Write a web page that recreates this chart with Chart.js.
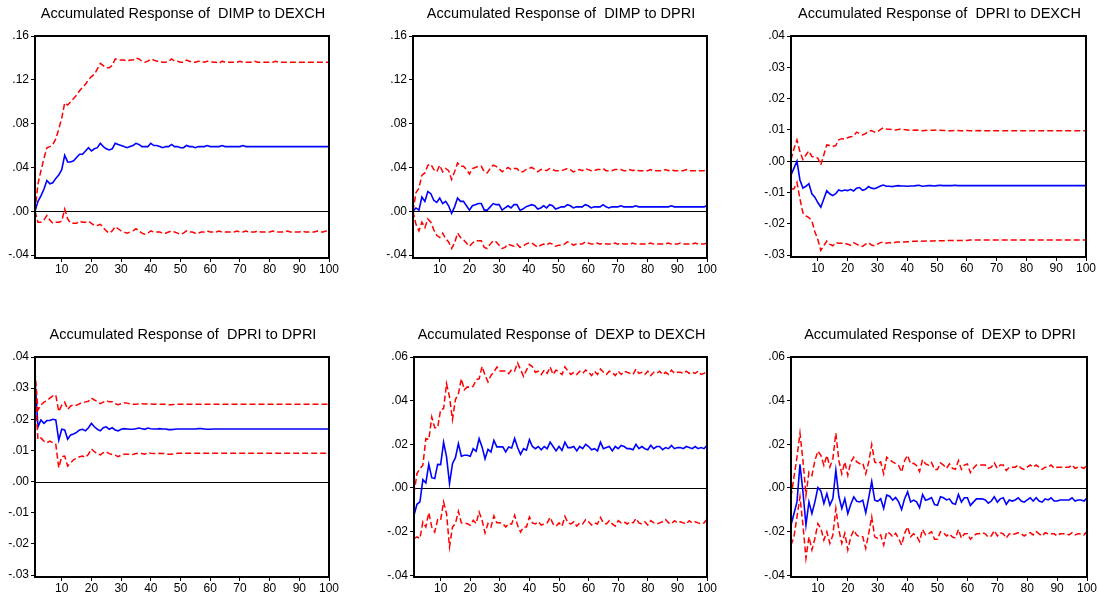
<!DOCTYPE html>
<html>
<head>
<meta charset="utf-8">
<script src="https://cdn.jsdelivr.net/npm/chart.js@4.4.0/dist/chart.umd.min.js"></script>
<style>
html,body{margin:0;padding:0;background:#fff;}
body{width:1099px;height:600px;position:relative;overflow:hidden;}
canvas{position:absolute;}
</style>
</head>
<body>
<script>
// ---------- DATA ----------
const periods = Array.from({length:100},(_,i)=>i+1);
const xTicks = [10,20,30,40,50,60,70,80,90,100];
const yTicksDimp = [-0.04,0,0.04,0.08,0.12,0.16];
const yTicksDpri = [-0.03,-0.02,-0.01,0,0.01,0.02,0.03,0.04];
const yTicksDexp = [-0.04,-0.02,0,0.02,0.04,0.06];
const titles = [
  "Accumulated Response of  DIMP to DEXCH",
  "Accumulated Response of  DIMP to DPRI",
  "Accumulated Response of  DPRI to DEXCH",
  "Accumulated Response of  DPRI to DPRI",
  "Accumulated Response of  DEXP to DEXCH",
  "Accumulated Response of  DEXP to DPRI"
];

const dimpDexchResp = [
0.000,0.009,0.014,0.020,0.028,0.025,0.026,0.030,0.033,0.038,
0.051,0.045,0.045,0.046,0.049,0.052,0.052,0.055,0.058,0.055,
0.057,0.058,0.062,0.059,0.057,0.056,0.057,0.062,0.061,0.060,
0.059,0.058,0.059,0.060,0.062,0.061,0.059,0.059,0.059,0.062,
0.060,0.060,0.059,0.058,0.059,0.059,0.061,0.059,0.059,0.058,
0.058,0.060,0.059,0.059,0.058,0.059,0.059,0.059,0.060,0.059,
0.059,0.059,0.059,0.060,0.059,0.059,0.059,0.059,0.059,0.059,
0.060,0.059,0.059,0.059,0.059,0.059,0.059,0.059,0.059,0.059,
0.059,0.059,0.059,0.059,0.059,0.059,0.059,0.059,0.059,0.059,
0.059,0.059,0.059,0.059,0.059,0.059,0.059,0.059,0.059,0.059];
const dimpDexchUp = [
0.000,0.025,0.037,0.048,0.058,0.059,0.061,0.066,0.075,0.085,
0.099,0.097,0.100,0.103,0.106,0.110,0.113,0.116,0.120,0.123,
0.125,0.130,0.135,0.133,0.131,0.131,0.133,0.139,0.138,0.138,
0.138,0.137,0.138,0.138,0.140,0.139,0.137,0.136,0.137,0.139,
0.138,0.137,0.137,0.136,0.136,0.137,0.139,0.137,0.137,0.136,
0.136,0.138,0.137,0.136,0.136,0.137,0.137,0.136,0.137,0.137,
0.136,0.136,0.135,0.137,0.136,0.136,0.136,0.136,0.136,0.137,
0.136,0.136,0.136,0.136,0.137,0.136,0.136,0.136,0.136,0.136,
0.136,0.137,0.136,0.136,0.136,0.136,0.136,0.136,0.136,0.136,
0.136,0.136,0.136,0.136,0.136,0.136,0.136,0.136,0.136,0.136];
const dimpDexchLo = [
0.000,-0.010,-0.010,-0.008,-0.004,-0.008,-0.011,-0.010,-0.010,-0.009,
0.002,-0.007,-0.011,-0.011,-0.011,-0.009,-0.010,-0.010,-0.009,-0.011,
-0.013,-0.013,-0.012,-0.015,-0.018,-0.020,-0.018,-0.014,-0.016,-0.018,
-0.019,-0.020,-0.019,-0.018,-0.016,-0.018,-0.020,-0.021,-0.020,-0.018,
-0.019,-0.019,-0.019,-0.020,-0.020,-0.019,-0.018,-0.019,-0.020,-0.021,
-0.020,-0.018,-0.019,-0.019,-0.020,-0.020,-0.019,-0.019,-0.018,-0.019,
-0.019,-0.019,-0.018,-0.019,-0.019,-0.019,-0.019,-0.019,-0.018,-0.019,
-0.019,-0.018,-0.019,-0.019,-0.019,-0.018,-0.019,-0.019,-0.019,-0.019,
-0.018,-0.019,-0.019,-0.019,-0.019,-0.018,-0.019,-0.019,-0.019,-0.019,
-0.018,-0.019,-0.019,-0.019,-0.019,-0.018,-0.019,-0.019,-0.018,-0.018];

const dimpDpriResp = [
0.000,0.003,0.001,0.013,0.009,0.018,0.016,0.010,0.008,0.012,
0.007,0.009,0.005,-0.002,0.004,0.012,0.009,0.009,0.005,0.001,
0.005,0.006,0.007,0.007,0.001,0.001,0.004,0.007,0.006,0.006,
0.001,0.003,0.005,0.003,0.006,0.006,0.001,0.002,0.004,0.005,
0.006,0.005,0.002,0.003,0.005,0.003,0.006,0.005,0.002,0.003,
0.004,0.004,0.006,0.005,0.003,0.004,0.004,0.004,0.006,0.005,
0.003,0.004,0.004,0.004,0.006,0.004,0.003,0.004,0.004,0.004,
0.005,0.004,0.004,0.004,0.004,0.005,0.004,0.004,0.004,0.004,
0.004,0.004,0.004,0.004,0.004,0.004,0.004,0.005,0.004,0.004,
0.004,0.004,0.004,0.004,0.004,0.004,0.004,0.004,0.004,0.005];
const dimpDpriUp = [
0.000,0.017,0.021,0.033,0.035,0.042,0.043,0.038,0.036,0.042,
0.036,0.039,0.037,0.029,0.036,0.044,0.041,0.041,0.038,0.034,
0.039,0.040,0.041,0.041,0.036,0.035,0.039,0.042,0.041,0.039,
0.036,0.038,0.040,0.038,0.039,0.039,0.036,0.036,0.038,0.039,
0.040,0.038,0.036,0.038,0.038,0.037,0.039,0.038,0.037,0.037,
0.037,0.038,0.039,0.038,0.036,0.037,0.038,0.037,0.039,0.038,
0.037,0.037,0.038,0.038,0.039,0.037,0.037,0.037,0.038,0.038,
0.038,0.037,0.037,0.038,0.037,0.038,0.037,0.037,0.037,0.037,
0.038,0.037,0.037,0.037,0.037,0.038,0.037,0.038,0.037,0.037,
0.037,0.037,0.038,0.037,0.037,0.037,0.037,0.037,0.037,0.038];
const dimpDpriLo = [
0.000,-0.012,-0.018,-0.010,-0.015,-0.007,-0.010,-0.017,-0.022,-0.024,
-0.020,-0.025,-0.028,-0.034,-0.029,-0.020,-0.024,-0.026,-0.029,-0.032,
-0.029,-0.027,-0.027,-0.027,-0.033,-0.034,-0.030,-0.027,-0.028,-0.031,
-0.034,-0.033,-0.030,-0.031,-0.032,-0.030,-0.033,-0.032,-0.030,-0.029,
-0.029,-0.031,-0.033,-0.031,-0.030,-0.031,-0.029,-0.030,-0.032,-0.031,
-0.031,-0.030,-0.028,-0.029,-0.031,-0.030,-0.030,-0.030,-0.028,-0.029,
-0.030,-0.030,-0.029,-0.030,-0.029,-0.030,-0.030,-0.030,-0.029,-0.030,
-0.029,-0.030,-0.030,-0.030,-0.029,-0.030,-0.030,-0.030,-0.030,-0.030,
-0.029,-0.030,-0.030,-0.030,-0.030,-0.030,-0.029,-0.030,-0.030,-0.030,
-0.029,-0.030,-0.030,-0.030,-0.030,-0.029,-0.030,-0.030,-0.030,-0.029];

const dpriDexchResp = [
-0.0044,-0.0022,0.0000,-0.0060,-0.0086,-0.0080,-0.0072,-0.0104,-0.0115,-0.0132,
-0.0147,-0.0121,-0.0094,-0.0104,-0.0110,-0.0104,-0.0092,-0.0095,-0.0092,-0.0094,
-0.0090,-0.0095,-0.0086,-0.0084,-0.0093,-0.0090,-0.0081,-0.0086,-0.0088,-0.0084,
-0.0079,-0.0076,-0.0080,-0.0080,-0.0081,-0.0079,-0.0078,-0.0079,-0.0079,-0.0080,
-0.0079,-0.0079,-0.0078,-0.0077,-0.0080,-0.0079,-0.0078,-0.0078,-0.0079,-0.0078,
-0.0077,-0.0078,-0.0078,-0.0078,-0.0078,-0.0077,-0.0078,-0.0078,-0.0078,-0.0078,
-0.0078,-0.0078,-0.0078,-0.0078,-0.0078,-0.0078,-0.0078,-0.0078,-0.0078,-0.0078,
-0.0078,-0.0078,-0.0078,-0.0078,-0.0078,-0.0078,-0.0078,-0.0078,-0.0078,-0.0078,
-0.0078,-0.0078,-0.0078,-0.0078,-0.0078,-0.0078,-0.0078,-0.0078,-0.0078,-0.0078,
-0.0078,-0.0078,-0.0078,-0.0078,-0.0078,-0.0078,-0.0078,-0.0078,-0.0078,-0.0078];
const dpriDexchUp = [
0.0005,0.0040,0.0068,0.0030,0.0005,0.0020,0.0033,0.0015,0.0012,0.0010,
-0.0012,0.0020,0.0052,0.0050,0.0047,0.0050,0.0068,0.0072,0.0071,0.0075,
0.0078,0.0080,0.0093,0.0088,0.0084,0.0088,0.0095,0.0098,0.0093,0.0094,
0.0101,0.0107,0.0103,0.0102,0.0101,0.0100,0.0101,0.0103,0.0101,0.0100,
0.0099,0.0099,0.0100,0.0099,0.0097,0.0098,0.0099,0.0099,0.0099,0.0100,
0.0099,0.0098,0.0098,0.0097,0.0097,0.0098,0.0098,0.0097,0.0097,0.0098,
0.0097,0.0097,0.0097,0.0098,0.0097,0.0097,0.0097,0.0097,0.0097,0.0097,
0.0097,0.0097,0.0097,0.0097,0.0097,0.0097,0.0097,0.0097,0.0097,0.0097,
0.0097,0.0097,0.0097,0.0097,0.0097,0.0097,0.0097,0.0097,0.0097,0.0097,
0.0097,0.0097,0.0097,0.0097,0.0097,0.0097,0.0097,0.0097,0.0097,0.0097];
const dpriDexchLo = [
-0.0090,-0.0088,-0.0068,-0.0120,-0.0165,-0.0175,-0.0180,-0.0190,-0.0225,-0.0250,
-0.0285,-0.0270,-0.0255,-0.0265,-0.0270,-0.0260,-0.0262,-0.0262,-0.0262,-0.0265,
-0.0268,-0.0260,-0.0265,-0.0270,-0.0272,-0.0265,-0.0260,-0.0268,-0.0270,-0.0265,
-0.0260,-0.0258,-0.0262,-0.0260,-0.0262,-0.0259,-0.0258,-0.0258,-0.0258,-0.0257,
-0.0257,-0.0256,-0.0256,-0.0254,-0.0256,-0.0255,-0.0255,-0.0255,-0.0255,-0.0254,
-0.0254,-0.0254,-0.0254,-0.0253,-0.0253,-0.0253,-0.0253,-0.0253,-0.0253,-0.0253,
-0.0252,-0.0252,-0.0252,-0.0252,-0.0252,-0.0252,-0.0252,-0.0252,-0.0252,-0.0252,
-0.0252,-0.0252,-0.0252,-0.0252,-0.0252,-0.0252,-0.0252,-0.0252,-0.0252,-0.0252,
-0.0252,-0.0252,-0.0252,-0.0252,-0.0252,-0.0252,-0.0252,-0.0252,-0.0252,-0.0252,
-0.0252,-0.0252,-0.0252,-0.0252,-0.0252,-0.0252,-0.0252,-0.0252,-0.0252,-0.0252];

const dpriDpriResp = [
0.0327,0.0176,0.0198,0.0187,0.0196,0.0196,0.0200,0.0198,0.0133,0.0168,
0.0166,0.0136,0.0150,0.0153,0.0158,0.0166,0.0168,0.0163,0.0173,0.0187,
0.0176,0.0168,0.0163,0.0173,0.0176,0.0168,0.0173,0.0166,0.0163,0.0168,
0.0170,0.0169,0.0168,0.0168,0.0170,0.0172,0.0170,0.0168,0.0172,0.0170,
0.0169,0.0169,0.0170,0.0169,0.0169,0.0167,0.0167,0.0168,0.0169,0.0169,
0.0169,0.0169,0.0169,0.0169,0.0169,0.0170,0.0170,0.0169,0.0168,0.0168,
0.0169,0.0169,0.0169,0.0169,0.0169,0.0169,0.0169,0.0169,0.0169,0.0169,
0.0169,0.0169,0.0169,0.0169,0.0169,0.0169,0.0169,0.0169,0.0169,0.0169,
0.0169,0.0169,0.0169,0.0169,0.0169,0.0169,0.0169,0.0169,0.0169,0.0169,
0.0169,0.0169,0.0169,0.0169,0.0169,0.0169,0.0169,0.0169,0.0169,0.0169];
const dpriDpriUp = [
0.0354,0.0230,0.0246,0.0255,0.0260,0.0268,0.0275,0.0278,0.0225,0.0245,
0.0255,0.0232,0.0243,0.0246,0.0245,0.0250,0.0253,0.0256,0.0258,0.0268,
0.0262,0.0257,0.0250,0.0255,0.0260,0.0256,0.0256,0.0250,0.0247,0.0250,
0.0253,0.0252,0.0250,0.0248,0.0248,0.0250,0.0250,0.0249,0.0250,0.0249,
0.0248,0.0248,0.0248,0.0248,0.0248,0.0247,0.0247,0.0248,0.0248,0.0248,
0.0248,0.0248,0.0248,0.0248,0.0248,0.0248,0.0248,0.0248,0.0248,0.0248,
0.0248,0.0248,0.0248,0.0248,0.0248,0.0248,0.0248,0.0248,0.0248,0.0248,
0.0248,0.0248,0.0248,0.0248,0.0248,0.0248,0.0248,0.0248,0.0248,0.0248,
0.0248,0.0248,0.0248,0.0248,0.0248,0.0248,0.0248,0.0248,0.0248,0.0248,
0.0248,0.0248,0.0248,0.0248,0.0248,0.0248,0.0248,0.0248,0.0248,0.0248];
const dpriDpriLo = [
0.0300,0.0135,0.0140,0.0130,0.0125,0.0130,0.0125,0.0120,0.0045,0.0080,
0.0082,0.0050,0.0060,0.0070,0.0075,0.0080,0.0082,0.0078,0.0088,0.0105,
0.0096,0.0090,0.0086,0.0093,0.0096,0.0090,0.0087,0.0085,0.0080,0.0085,
0.0088,0.0088,0.0088,0.0087,0.0090,0.0092,0.0090,0.0088,0.0093,0.0091,
0.0090,0.0090,0.0091,0.0090,0.0090,0.0088,0.0088,0.0090,0.0091,0.0091,
0.0091,0.0091,0.0091,0.0091,0.0091,0.0091,0.0091,0.0091,0.0091,0.0091,
0.0091,0.0091,0.0091,0.0091,0.0091,0.0091,0.0091,0.0091,0.0091,0.0091,
0.0091,0.0091,0.0091,0.0091,0.0091,0.0091,0.0091,0.0091,0.0091,0.0091,
0.0091,0.0091,0.0091,0.0091,0.0091,0.0091,0.0091,0.0091,0.0091,0.0091,
0.0091,0.0091,0.0091,0.0091,0.0091,0.0091,0.0091,0.0091,0.0091,0.0091];

const dexpDexchResp = [
-0.0125,-0.0075,-0.0064,0.0038,0.0023,0.0108,0.0047,0.0043,0.0108,0.0107,
0.0209,0.0142,0.0020,0.0111,0.0139,0.0203,0.0145,0.0150,0.0150,0.0145,
0.0180,0.0168,0.0226,0.0188,0.0134,0.0177,0.0165,0.0218,0.0188,0.0188,
0.0188,0.0165,0.0188,0.0183,0.0227,0.0185,0.0154,0.0180,0.0173,0.0221,
0.0190,0.0180,0.0190,0.0175,0.0190,0.0180,0.0210,0.0190,0.0170,0.0190,
0.0172,0.0210,0.0185,0.0185,0.0190,0.0170,0.0190,0.0180,0.0200,0.0190,
0.0175,0.0180,0.0170,0.0210,0.0180,0.0185,0.0190,0.0170,0.0190,0.0180,
0.0195,0.0190,0.0180,0.0180,0.0175,0.0200,0.0180,0.0190,0.0180,0.0175,
0.0195,0.0180,0.0190,0.0190,0.0175,0.0185,0.0180,0.0195,0.0180,0.0185,
0.0185,0.0180,0.0190,0.0185,0.0180,0.0190,0.0180,0.0185,0.0180,0.0195];
const dexpDexchUp = [
-0.0026,0.0066,0.0089,0.0104,0.0226,0.0221,0.0325,0.0276,0.0276,0.0359,
0.0363,0.0478,0.0417,0.0313,0.0405,0.0432,0.0500,0.0450,0.0463,0.0460,
0.0466,0.0496,0.0500,0.0557,0.0516,0.0486,0.0516,0.0531,0.0554,0.0536,
0.0536,0.0536,0.0524,0.0542,0.0536,0.0573,0.0542,0.0511,0.0540,0.0566,
0.0555,0.0530,0.0535,0.0520,0.0540,0.0525,0.0555,0.0520,0.0540,0.0530,
0.0520,0.0555,0.0535,0.0520,0.0530,0.0520,0.0535,0.0525,0.0540,0.0530,
0.0515,0.0535,0.0520,0.0545,0.0530,0.0520,0.0535,0.0530,0.0515,0.0535,
0.0520,0.0535,0.0530,0.0525,0.0520,0.0545,0.0525,0.0530,0.0520,0.0535,
0.0515,0.0530,0.0525,0.0535,0.0520,0.0530,0.0520,0.0540,0.0525,0.0530,
0.0530,0.0525,0.0535,0.0525,0.0530,0.0525,0.0535,0.0520,0.0525,0.0535];
const dexpDexchLo = [
-0.0232,-0.0224,-0.0232,-0.0156,-0.0179,-0.0113,-0.0179,-0.0202,-0.0145,-0.0148,
-0.0064,-0.0118,-0.0270,-0.0179,-0.0163,-0.0107,-0.0160,-0.0163,-0.0163,-0.0171,
-0.0148,-0.0163,-0.0110,-0.0148,-0.0206,-0.0163,-0.0179,-0.0128,-0.0160,-0.0160,
-0.0163,-0.0179,-0.0163,-0.0166,-0.0125,-0.0171,-0.0202,-0.0179,-0.0179,-0.0133,
-0.0160,-0.0165,-0.0155,-0.0170,-0.0165,-0.0160,-0.0135,-0.0165,-0.0175,-0.0160,
-0.0175,-0.0130,-0.0160,-0.0165,-0.0155,-0.0175,-0.0160,-0.0165,-0.0145,-0.0155,
-0.0170,-0.0160,-0.0165,-0.0135,-0.0160,-0.0165,-0.0150,-0.0165,-0.0175,-0.0150,
-0.0160,-0.0155,-0.0165,-0.0155,-0.0160,-0.0140,-0.0160,-0.0165,-0.0155,-0.0170,
-0.0150,-0.0160,-0.0165,-0.0160,-0.0155,-0.0145,-0.0160,-0.0165,-0.0150,-0.0160,
-0.0155,-0.0160,-0.0165,-0.0150,-0.0160,-0.0155,-0.0160,-0.0165,-0.0160,-0.0145];

const dexpDpriResp = [
-0.0170,-0.0117,-0.0064,0.0108,-0.0018,-0.0170,-0.0064,-0.0117,-0.0064,0.0002,
-0.0014,-0.0071,-0.0026,-0.0079,-0.0049,0.0081,-0.0038,-0.0094,-0.0049,-0.0117,
-0.0075,-0.0041,-0.0061,-0.0064,-0.0056,-0.0114,-0.0044,0.0030,-0.0056,-0.0061,
-0.0049,-0.0094,-0.0033,-0.0038,-0.0056,-0.0044,-0.0064,-0.0099,-0.0049,-0.0018,
-0.0064,-0.0056,-0.0064,-0.0090,-0.0030,-0.0056,-0.0052,-0.0044,-0.0076,-0.0079,
-0.0040,-0.0045,-0.0055,-0.0050,-0.0070,-0.0075,-0.0030,-0.0065,-0.0045,-0.0045,
-0.0080,-0.0065,-0.0050,-0.0050,-0.0050,-0.0055,-0.0070,-0.0060,-0.0040,-0.0065,
-0.0050,-0.0045,-0.0075,-0.0055,-0.0060,-0.0055,-0.0045,-0.0060,-0.0065,-0.0055,
-0.0045,-0.0060,-0.0045,-0.0060,-0.0065,-0.0050,-0.0055,-0.0045,-0.0060,-0.0060,
-0.0055,-0.0055,-0.0055,-0.0055,-0.0045,-0.0060,-0.0055,-0.0055,-0.0060,-0.0045];
const dexpDpriUp = [
-0.0040,0.0050,0.0141,0.0251,0.0126,-0.0033,0.0073,0.0058,0.0126,0.0169,
0.0149,0.0103,0.0149,0.0096,0.0134,0.0251,0.0126,0.0065,0.0119,0.0058,
0.0119,0.0141,0.0119,0.0111,0.0114,0.0065,0.0119,0.0199,0.0119,0.0111,
0.0119,0.0065,0.0141,0.0129,0.0119,0.0111,0.0103,0.0073,0.0126,0.0149,
0.0111,0.0113,0.0103,0.0075,0.0130,0.0110,0.0105,0.0117,0.0085,0.0085,
0.0115,0.0105,0.0090,0.0110,0.0090,0.0085,0.0125,0.0085,0.0105,0.0110,
0.0070,0.0090,0.0105,0.0105,0.0105,0.0105,0.0090,0.0095,0.0115,0.0090,
0.0105,0.0105,0.0080,0.0095,0.0095,0.0095,0.0105,0.0090,0.0085,0.0095,
0.0105,0.0095,0.0105,0.0095,0.0085,0.0095,0.0095,0.0105,0.0090,0.0095,
0.0095,0.0095,0.0095,0.0095,0.0105,0.0090,0.0095,0.0095,0.0090,0.0105];
const dexpDpriLo = [
-0.0262,-0.0224,-0.0132,-0.0041,-0.0170,-0.0322,-0.0224,-0.0284,-0.0231,-0.0163,
-0.0186,-0.0239,-0.0201,-0.0254,-0.0216,-0.0094,-0.0193,-0.0254,-0.0208,-0.0284,
-0.0224,-0.0193,-0.0216,-0.0224,-0.0224,-0.0277,-0.0208,-0.0132,-0.0224,-0.0231,
-0.0216,-0.0262,-0.0201,-0.0208,-0.0224,-0.0208,-0.0231,-0.0262,-0.0208,-0.0178,
-0.0224,-0.0210,-0.0220,-0.0245,-0.0190,-0.0215,-0.0210,-0.0200,-0.0235,-0.0235,
-0.0200,-0.0205,-0.0220,-0.0210,-0.0225,-0.0230,-0.0190,-0.0230,-0.0210,-0.0210,
-0.0235,-0.0220,-0.0210,-0.0210,-0.0205,-0.0210,-0.0225,-0.0220,-0.0195,-0.0220,
-0.0205,-0.0210,-0.0230,-0.0210,-0.0215,-0.0210,-0.0205,-0.0210,-0.0220,-0.0210,
-0.0205,-0.0215,-0.0200,-0.0210,-0.0220,-0.0205,-0.0210,-0.0210,-0.0210,-0.0220,
-0.0210,-0.0210,-0.0210,-0.0215,-0.0205,-0.0215,-0.0210,-0.0210,-0.0215,-0.0200];

// ---------- LAYOUT (plot rectangles, page px) ----------
const panels = [
  {title:titles[0], resp:dimpDexchResp, up:dimpDexchUp, lo:dimpDexchLo, yt:yTicksDimp, ymin:-0.0427, ymax:0.16, L:35,  T:36,  R:329,  B:258},
  {title:titles[1], resp:dimpDpriResp,  up:dimpDpriUp,  lo:dimpDpriLo,  yt:yTicksDimp, ymin:-0.0427, ymax:0.16, L:413, T:36,  R:707,  B:258},
  {title:titles[2], resp:dpriDexchResp, up:dpriDexchUp, lo:dpriDexchLo, yt:yTicksDpri, ymin:-0.0306, ymax:0.04, L:791, T:36,  R:1086, B:257},
  {title:titles[3], resp:dpriDpriResp,  up:dpriDpriUp,  lo:dpriDpriLo,  yt:yTicksDpri, ymin:-0.0306, ymax:0.04, L:35,  T:357, R:329,  B:577},
  {title:titles[4], resp:dexpDexchResp, up:dexpDexchUp, lo:dexpDexchLo, yt:yTicksDexp, ymin:-0.0408, ymax:0.06, L:414, T:357, R:707,  B:577},
  {title:titles[5], resp:dexpDpriResp,  up:dexpDpriUp,  lo:dexpDpriLo,  yt:yTicksDexp, ymin:-0.0408, ymax:0.06, L:791, T:357, R:1087, B:577}
];

const PADL = 40, PADT = 36, PADR = 14, PADB = 24;
const FONT = "'Liberation Sans', Arial, sans-serif";

function fmt(v){
  let s = (Math.abs(v) < 1e-9 ? 0 : v).toFixed(2);
  return s.replace('0.', '.');
}

const framePlugin = {
  id:'frameAndTitle',
  beforeDatasetsDraw(chart){
    const {ctx, chartArea:{left,top,right,bottom}, scales:{y}} = chart;
    const y0 = Math.round(y.getPixelForValue(0)) + 0.5;
    ctx.save();
    ctx.strokeStyle = '#000'; ctx.lineWidth = 1;
    ctx.beginPath(); ctx.moveTo(left, y0); ctx.lineTo(right, y0); ctx.stroke();
    ctx.restore();
  },
  afterDraw(chart){
    const {ctx, chartArea:{left,top,right,bottom}} = chart;
    ctx.save();
    ctx.strokeStyle = '#000'; ctx.lineWidth = 2;
    ctx.strokeRect(left, top, right-left, bottom-top);
    ctx.fillStyle = '#000';
    ctx.font = "14.5px " + FONT;
    ctx.textAlign = 'center'; ctx.textBaseline = 'middle';
    ctx.fillText(chart.options.plugins.panelTitle.text, (left+right)/2 + 1, top - 22);
    ctx.restore();
  }
};

panels.forEach(p => {
  const cv = document.createElement('canvas');
  const w = (p.R - p.L) + PADL + PADR;
  const h = (p.B - p.T) + PADT + PADB;
  cv.style.left = (p.L - PADL) + 'px';
  cv.style.top = (p.T - PADT) + 'px';
  cv.style.width = w + 'px'; cv.style.height = h + 'px';
  cv.width = w; cv.height = h;
  document.body.appendChild(cv);
  const mk = arr => periods.map((x,i) => ({x:x, y:arr[i]}));
  new Chart(cv, {
    type:'line',
    data:{datasets:[
      {data:mk(p.up), borderColor:'#FF0000', borderWidth:1.5, borderDash:[6,3], pointRadius:0, tension:0},
      {data:mk(p.lo), borderColor:'#FF0000', borderWidth:1.5, borderDash:[6,3], pointRadius:0, tension:0},
      {data:mk(p.resp), borderColor:'#0000FF', borderWidth:1.6, pointRadius:0, tension:0}
    ]},
    options:{
      responsive:false, animation:false, devicePixelRatio:1,
      layout:{padding:{top:PADT, right:PADR, left:0, bottom:0}},
      plugins:{legend:{display:false}, tooltip:{enabled:false}, title:{display:false}, panelTitle:{text:p.title}},
      scales:{
        x:{type:'linear', min:1, max:100,
           afterBuildTicks: s => { s.ticks = xTicks.map(v => ({value:v})); },
           afterFit: s => { s.height = PADB; },
           grid:{display:true, drawOnChartArea:false, drawTicks:true, tickLength:4, color:'#000'},
           border:{display:true, color:'#000', width:2},
           ticks:{color:'#000', font:{family:FONT, size:12}, padding:0, maxRotation:0, autoSkip:false}
        },
        y:{type:'linear', min:p.ymin, max:p.ymax,
           afterBuildTicks: s => { s.ticks = p.yt.map(v => ({value:v})); },
           afterFit: s => { s.width = PADL; },
           grid:{display:true, drawOnChartArea:false, drawTicks:true, tickLength:4, color:'#000'},
           border:{display:true, color:'#000', width:2},
           ticks:{color:'#000', font:{family:FONT, size:12}, padding:2, callback: v => fmt(v)}
        }
      }
    },
    plugins:[framePlugin]
  });
});
</script>
</body>
</html>
